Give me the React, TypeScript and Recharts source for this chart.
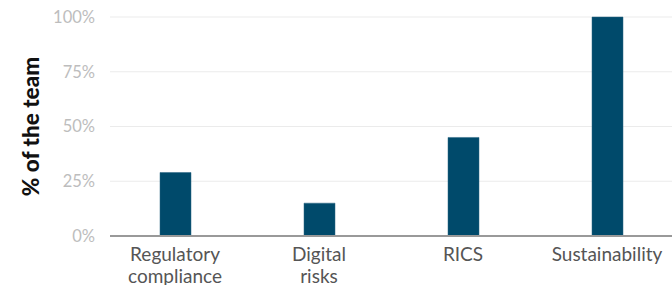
import React from "react";
import { BarChart, Bar, XAxis, YAxis, CartesianGrid } from "recharts";

const categories = ["Regulatory compliance", "Digital risks", "RICS", "Sustainability"];
const shares = [29, 15, 45, 100];
const yTicks = [0, 25, 50, 75, 100];

const data = categories.map((c, i) => ({ name: c, value: shares[i] }));

const FONT = "Lato, 'Open Sans', sans-serif";

const XTick = (props: any) => {
  const { x, y, payload } = props;
  const words: string[] = String(payload.value).split(" ");
  return (
    <g transform={`translate(${x},${y})`}>
      <text textAnchor="middle" fill="#555" fontSize={19} fontFamily={FONT}>
        {words.map((w, i) => (
          <tspan key={i} x={0} dy={i === 0 ? 25 : 22}>
            {w}
          </tspan>
        ))}
      </text>
    </g>
  );
};

const YLabel = (props: any) => {
  const vb = props.viewBox || {};
  const cx = 30;
  const cy = (vb.y ?? 0) + (vb.height ?? 0) / 2;
  return (
    <text
      x={cx}
      y={cy}
      transform={`rotate(-90, ${cx}, ${cy})`}
      textAnchor="middle"
      dominantBaseline="central"
      fontFamily={FONT}
      fontWeight={900}
      fontSize={22.5}
      fill="#111"
    >
      % of the team
    </text>
  );
};

export default function App() {
  return (
    <div
      style={{
        position: "fixed",
        top: 0,
        left: 0,
        width: 672,
        height: 285,
        overflow: "hidden",
        background: "#fff",
      }}
    >
      <BarChart
        width={690}
        height={305}
        data={data}
        margin={{ top: 17, right: 11, left: 0, bottom: 0 }}
        barCategoryGap="0%"
      >
        <CartesianGrid vertical={false} stroke="#ebebeb" strokeWidth={1} />
        <XAxis
          dataKey="name"
          interval={0}
          tickLine={false}
          axisLine={{ stroke: "#999", strokeWidth: 2 }}
          tick={<XTick />}
          height={69}
          padding={{ left: -7, right: 0 }}
          tickSize={0}
          tickMargin={0}
        />
        <YAxis
          width={110}
          domain={[0, 100]}
          ticks={yTicks}
          tickFormatter={(v: number) => `${v}%`}
          axisLine={false}
          tickLine={false}
          tickSize={0}
          tickMargin={15}
          tick={{ fill: "#bdbdbd", fontSize: 16.5, fontFamily: FONT }}
          label={<YLabel />}
        />
        <Bar
          dataKey="value"
          fill="#004a6b"
          stroke="#2a6482"
          strokeWidth={0.5}
          barSize={31}
          isAnimationActive={false}
        />
      </BarChart>
    </div>
  );
}
